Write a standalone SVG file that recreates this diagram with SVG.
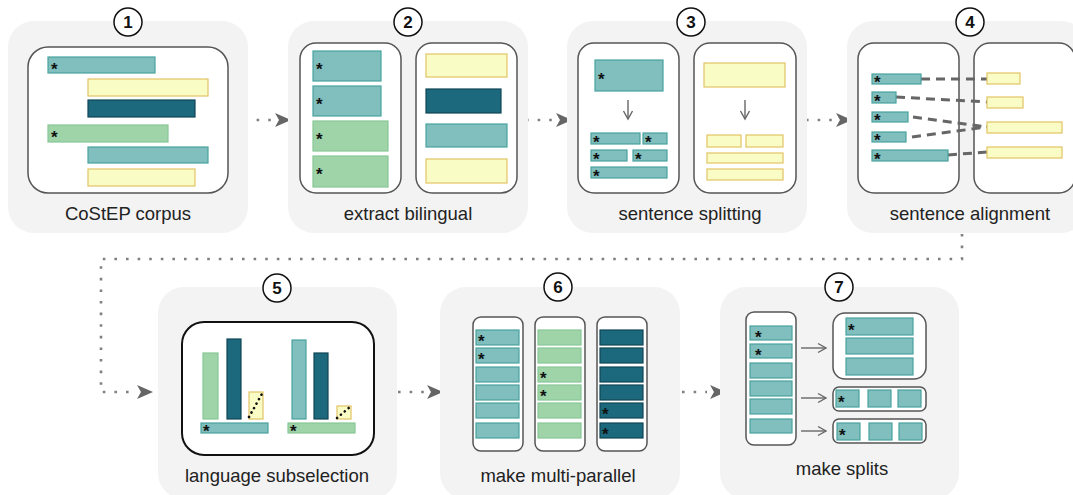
<svg xmlns="http://www.w3.org/2000/svg" width="1073" height="495" viewBox="0 0 1073 495">
<defs>
<style>
.bg{fill:#f3f3f3}
.box{fill:#fff;stroke:#555;stroke-width:1.5}
.t{fill:#80bfbd;stroke:#49a29d;stroke-width:1.2}
.y{fill:#fafcc5;stroke:#e2c464;stroke-width:1.2}
.d{fill:#1c687c;stroke:#0f4756;stroke-width:1.2}
.g{fill:#9fd4a9;stroke:#88c796;stroke-width:1.2}
.num{fill:#fff;stroke:#111;stroke-width:1.5}
.nt{font-family:"Liberation Sans",Arial,sans-serif;font-weight:bold;font-size:17px;fill:#111;text-anchor:middle}
.lbl{font-family:"Liberation Sans",Arial,sans-serif;font-size:18.5px;fill:#222;text-anchor:middle}
.a{font-family:"Liberation Sans",Arial,sans-serif;font-size:17px;font-weight:bold;fill:#111}
.dot{fill:none;stroke:#808080;stroke-width:2.6;stroke-dasharray:2.6 9}
.ah{fill:#666}
.dash{fill:none;stroke:#666;stroke-width:3;stroke-dasharray:9 6}
.sa{fill:none;stroke:#666;stroke-width:1.4}
.diag{fill:none;stroke:#111;stroke-width:2.6;stroke-dasharray:0.1 5;stroke-linecap:round}
</style>
<marker id="sm" markerUnits="userSpaceOnUse" markerWidth="12" markerHeight="12" refX="10" refY="6" orient="auto">
<path d="M2,1.5 L10,6 L2,10.5" fill="none" stroke="#666" stroke-width="1.4"/>
</marker>
</defs>

<g id="connectors">
<path class="dot" d="M245,120 H272"/>
<path class="ah" d="M275,113 L291,120 L275,127 L279,120 Z"/>
<path class="dot" d="M526,120 H553"/>
<path class="ah" d="M556,113 L572,120 L556,127 L560,120 Z"/>
<path class="dot" d="M806,120 H833"/>
<path class="ah" d="M836,113 L852,120 L836,127 L840,120 Z"/>
<path class="dot" d="M962,234 V259 H101 V392 H134"/>
<path class="ah" d="M137,385 L153,392 L137,399 L141,392 Z"/>
<path class="dot" d="M398,392 H424"/>
<path class="ah" d="M427,385 L443,392 L427,399 L431,392 Z"/>
<path class="dot" d="M682,392 H707"/>
<path class="ah" d="M710,385 L726,392 L710,399 L714,392 Z"/>
</g>

<g id="node1">
<rect class="bg" x="8" y="21" width="240" height="212" rx="26"/>
<rect class="box" x="28" y="47" width="200" height="146" rx="20"/>
<rect class="t" x="48" y="57" width="107" height="16"/><text class="a" x="51" y="75">*</text>
<rect class="y" x="88" y="79" width="120" height="17"/>
<rect class="d" x="88" y="100" width="107" height="17"/>
<rect class="g" x="48" y="125" width="120" height="17"/><text class="a" x="51" y="143">*</text>
<rect class="t" x="88" y="147" width="120" height="16"/>
<rect class="y" x="88" y="169" width="107" height="17"/>
<circle class="num" cx="128" cy="22" r="14"/><text class="nt" x="128" y="28">1</text>
<text class="lbl" x="128" y="220">CoStEP corpus</text>
</g>

<g id="node2">
<rect class="bg" x="288" y="21" width="240" height="212" rx="26"/>
<rect class="box" x="300" y="43" width="101" height="150" rx="16"/>
<rect class="box" x="416" y="43" width="101" height="150" rx="16"/>
<rect class="t" x="313" y="51" width="68" height="30"/><text class="a" x="316" y="75">*</text>
<rect class="t" x="313" y="86" width="68" height="30"/><text class="a" x="316" y="110">*</text>
<rect class="g" x="313" y="121" width="75" height="30"/><text class="a" x="316" y="145">*</text>
<rect class="g" x="313" y="156" width="75" height="31"/><text class="a" x="316" y="180">*</text>
<rect class="y" x="426" y="54" width="81" height="23"/>
<rect class="d" x="426" y="89" width="75" height="24"/>
<rect class="t" x="426" y="124" width="81" height="23"/>
<rect class="y" x="426" y="159" width="81" height="24"/>
<circle class="num" cx="408" cy="22" r="14"/><text class="nt" x="408" y="28">2</text>
<text class="lbl" x="408" y="220">extract bilingual</text>
</g>

<g id="node3">
<rect class="bg" x="567" y="21" width="240" height="212" rx="26"/>
<rect class="box" x="578" y="43" width="101" height="150" rx="16"/>
<rect class="box" x="694" y="43" width="102" height="150" rx="16"/>
<rect class="t" x="595" y="60" width="68" height="31"/><text class="a" x="598" y="85">*</text>
<path class="sa" d="M628,100 V119" marker-end="url(#sm)"/>
<rect class="t" x="591" y="133" width="49" height="11"/><text class="a" x="593" y="148">*</text>
<rect class="t" x="643" y="133" width="24" height="11"/><text class="a" x="645" y="148">*</text>
<rect class="t" x="591" y="150" width="36" height="11"/><text class="a" x="593" y="165">*</text>
<rect class="t" x="633" y="150" width="34" height="11"/><text class="a" x="635" y="165">*</text>
<rect class="t" x="591" y="167" width="76" height="11"/><text class="a" x="593" y="182">*</text>
<rect class="y" x="704" y="63" width="81" height="24"/>
<path class="sa" d="M745,100 V119" marker-end="url(#sm)"/>
<rect class="y" x="707" y="135" width="34" height="12"/>
<rect class="y" x="746" y="135" width="37" height="12"/>
<rect class="y" x="707" y="153" width="76" height="10"/>
<rect class="y" x="707" y="169" width="76" height="11"/>
<circle class="num" cx="691" cy="22" r="14"/><text class="nt" x="691" y="28">3</text>
<text class="lbl" x="690" y="220">sentence splitting</text>
</g>

<g id="node4">
<rect class="bg" x="847" y="21" width="240" height="212" rx="26"/>
<rect class="box" x="858" y="43" width="101" height="150" rx="16"/>
<rect class="box" x="974" y="43" width="101" height="150" rx="16"/>
<path class="dash" d="M921,79 H987"/>
<path class="dash" d="M896,97 L987,102"/>
<path class="dash" d="M913,117 L987,127"/>
<path class="dash" d="M912,137 L987,127"/>
<path class="dash" d="M948,155 L987,152"/>
<rect class="t" x="872" y="74" width="49" height="10"/><text class="a" x="874" y="88">*</text>
<rect class="t" x="872" y="92" width="24" height="11"/><text class="a" x="874" y="107">*</text>
<rect class="t" x="872" y="112" width="36" height="10"/><text class="a" x="874" y="126">*</text>
<rect class="t" x="872" y="132" width="34" height="10"/><text class="a" x="874" y="146">*</text>
<rect class="t" x="872" y="150" width="76" height="11"/><text class="a" x="874" y="165">*</text>
<rect class="y" x="987" y="73" width="33" height="11"/>
<rect class="y" x="987" y="97" width="36" height="11"/>
<rect class="y" x="987" y="122" width="75" height="11"/>
<rect class="y" x="987" y="147" width="75" height="11"/>
<circle class="num" cx="970" cy="22" r="14"/><text class="nt" x="970" y="28">4</text>
<text class="lbl" x="970" y="220">sentence alignment</text>
</g>

<g id="node5">
<rect class="bg" x="158" y="287" width="239" height="212" rx="26"/>
<rect x="182" y="322" width="192" height="133" rx="22" fill="#fff" stroke="#111" stroke-width="2"/>
<rect class="g" x="203" y="353" width="15" height="66"/>
<rect class="d" x="227" y="339" width="14" height="80"/>
<rect class="y" x="249" y="392" width="14" height="27"/>
<path class="diag" d="M249,417 L263,392"/>
<rect class="t" x="201" y="423" width="67" height="10"/><text class="a" x="203" y="437">*</text>
<rect class="t" x="292" y="340" width="14" height="79"/>
<rect class="d" x="314" y="353" width="14" height="66"/>
<rect class="y" x="337" y="406" width="14" height="13"/>
<path class="diag" d="M337,418 L351,406"/>
<rect class="g" x="288" y="423" width="67" height="10"/><text class="a" x="290" y="437">*</text>
<circle class="num" cx="277" cy="288" r="14"/><text class="nt" x="277" y="294">5</text>
<text class="lbl" x="277" y="482">language subselection</text>
</g>

<g id="node6">
<rect class="bg" x="440" y="287" width="240" height="212" rx="26"/>
<rect class="box" x="473" y="317" width="50" height="134" rx="8"/>
<rect class="box" x="535" y="317" width="50" height="134" rx="8"/>
<rect class="box" x="597" y="317" width="50" height="134" rx="8"/>
<rect class="t" x="476" y="330" width="43" height="15"/><text class="a" x="478" y="347">*</text>
<rect class="t" x="476" y="348" width="43" height="15"/><text class="a" x="478" y="365">*</text>
<rect class="t" x="476" y="367" width="43" height="15"/>
<rect class="t" x="476" y="385" width="43" height="15"/>
<rect class="t" x="476" y="403" width="43" height="15"/>
<rect class="t" x="476" y="423" width="43" height="15"/>
<rect class="g" x="538" y="330" width="43" height="15"/>
<rect class="g" x="538" y="348" width="43" height="15"/>
<rect class="g" x="538" y="367" width="43" height="15"/><text class="a" x="540" y="384">*</text>
<rect class="g" x="538" y="385" width="43" height="15"/><text class="a" x="540" y="402">*</text>
<rect class="g" x="538" y="403" width="43" height="15"/>
<rect class="g" x="538" y="423" width="43" height="15"/>
<rect class="d" x="600" y="330" width="43" height="15"/>
<rect class="d" x="600" y="348" width="43" height="15"/>
<rect class="d" x="600" y="367" width="43" height="15"/>
<rect class="d" x="600" y="385" width="43" height="15"/>
<rect class="d" x="600" y="403" width="43" height="15"/><text class="a" x="602" y="420">*</text>
<rect class="d" x="600" y="423" width="43" height="15"/><text class="a" x="602" y="440">*</text>
<circle class="num" cx="558" cy="287" r="14"/><text class="nt" x="558" y="293">6</text>
<text class="lbl" x="558" y="482">make multi-parallel</text>
</g>

<g id="node7">
<rect class="bg" x="720" y="287" width="239" height="212" rx="26"/>
<rect class="box" x="746" y="312" width="50" height="133" rx="8"/>
<rect class="t" x="750" y="326" width="42" height="14"/><text class="a" x="755" y="343">*</text>
<rect class="t" x="750" y="344" width="42" height="14"/><text class="a" x="755" y="361">*</text>
<rect class="t" x="750" y="363" width="42" height="15"/>
<rect class="t" x="750" y="381" width="42" height="15"/>
<rect class="t" x="750" y="399" width="42" height="15"/>
<rect class="t" x="750" y="419" width="42" height="14"/>
<path class="sa" d="M801,348 H826" marker-end="url(#sm)"/>
<path class="sa" d="M801,398 H826" marker-end="url(#sm)"/>
<path class="sa" d="M801,431 H826" marker-end="url(#sm)"/>
<rect class="box" x="833" y="313" width="93" height="66" rx="12"/>
<rect class="t" x="846" y="318" width="67" height="17"/><text class="a" x="848" y="336">*</text>
<rect class="t" x="846" y="338" width="67" height="16"/>
<rect class="t" x="846" y="358" width="67" height="17"/>
<rect class="box" x="833" y="387" width="93" height="24" rx="6"/>
<rect class="t" x="836" y="390" width="23" height="17"/><text class="a" x="838" y="408">*</text>
<rect class="t" x="868" y="390" width="23" height="17"/>
<rect class="t" x="898" y="390" width="23" height="17"/>
<rect class="box" x="833" y="419" width="93" height="24" rx="6"/>
<rect class="t" x="837" y="423" width="23" height="17"/><text class="a" x="839" y="441">*</text>
<rect class="t" x="869" y="423" width="23" height="17"/>
<rect class="t" x="899" y="423" width="23" height="17"/>
<circle class="num" cx="839" cy="287" r="14"/><text class="nt" x="839" y="293">7</text>
<text class="lbl" x="842" y="475">make splits</text>
</g>
</svg>
